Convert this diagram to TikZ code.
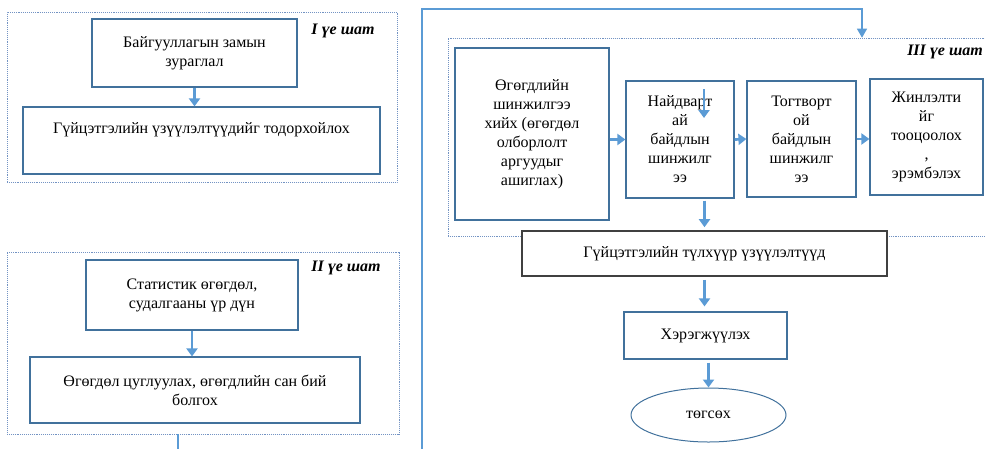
\documentclass[tikz,border=0pt]{standalone}
\usepackage{fontspec}
\setmainfont{Liberation Serif}
\usetikzlibrary{arrows.meta,shapes.geometric}
\definecolor{boxblue}{HTML}{41719C}
\definecolor{arrowblue}{HTML}{5B9BD5}
\definecolor{dotblue}{HTML}{7393C3}

\begin{document}
\begin{tikzpicture}[x=1pt,y=-1pt,
  every node/.style={font=\fontsize{16}{19}\selectfont, align=center, inner sep=0pt},
  box/.style={draw=boxblue, line width=1.2pt, fill=white},
  keybox/.style={draw=black!75, line width=1.6pt, fill=white},
  stageframe/.style={draw=dotblue, densely dotted, line width=0.9pt},
  stage/.style={font=\fontsize{16}{19}\selectfont\bfseries\itshape},
  arr/.style={draw=arrowblue, line width=2.7pt, -{Triangle[width=11pt,length=8pt]}},
  link/.style={draw=arrowblue, line width=1.3pt, -{Triangle[width=10pt,length=9pt]}}]

% the page
\useasboundingbox (0,0) rectangle (985,448);
\clip (0,0) rectangle (985,448);

% I stage
\node[stageframe, minimum width=390, minimum height=170] (frameI) at (202,97) {};
\node[stage] (lblI) at (343,31) {I үе шат};
\node[box, minimum width=205, minimum height=68] (zuraglal) at (194.5,53)
  {Байгууллагын замын\\зураглал};
\node[box, minimum width=357, minimum height=67] (uzuulelt) at (201.5,140.5)
  {Гүйцэтгэлийн үзүүлэлтүүдийг тодорхойлох\\ \strut};
\draw[arr] (zuraglal.south) -- (zuraglal.south |- uzuulelt.north);

% II stage
\node[stageframe, minimum width=392, minimum height=182] (frameII) at (203,343) {};
\node[stage] (lblII) at (346,268) {II үе шат};
\node[box, minimum width=212, minimum height=70] (statistik) at (192,295)
  {Статистик өгөгдөл,\\судалгааны үр дүн};
\node[box, minimum width=330, minimum height=66] (sanbii) at (195,390)
  {Өгөгдөл цуглуулах, өгөгдлийн сан бий\\болгох};
\draw[arr] (statistik.south) -- (statistik.south |- sanbii.north);

% III stage
\node[stageframe, minimum width=552, minimum height=198] (frameIII) at (724,137) {};
\node[stage, anchor=east] (lblIII) at (983,52) {III үе шат};
\node[box, minimum width=154, minimum height=172] (shinjilgee) at (532,134)
  {Өгөгдлийн\\шинжилгээ\\хийх (өгөгдөл\\олборлолт\\аргуудыг\\ашиглах)};
\node[box, minimum width=108, minimum height=117] (naidvar) at (680,139.5)
  {Найдварт\\ай\\байдлын\\шинжилг\\ээ};
\node[box, minimum width=109, minimum height=116] (togtvor) at (801.5,139)
  {Тогтворт\\ой\\байдлын\\шинжилг\\ээ};
\node[box, minimum width=113, minimum height=116] (jinlelt) at (926.5,137)
  {Жинлэлти\\йг\\тооцоолох\\,\\эрэмбэлэх};
\node[keybox, minimum width=365, minimum height=45] (tulhuur) at (704.5,253.5)
  {Гүйцэтгэлийн түлхүүр үзүүлэлтүүд};
\node[box, minimum width=163, minimum height=47] (hereg) at (705.5,335.5)
  {Хэрэгжүүлэх};
\node[ellipse, draw=boxblue, line width=1pt, minimum width=155, minimum height=54] (tugsukh) at (708.5,415)
  {төгсөх};

\draw[arr] (shinjilgee.east |- naidvar.west) -- (naidvar.west);
\draw[arr] (naidvar.east) -- (togtvor.west);
\draw[arr] (togtvor.east) -- (jinlelt.west |- togtvor.east);
\coordinate (strayA) at (704,89);
\coordinate (strayB) at (704,118);
\draw[arr] (strayA) -- (strayB);
\draw[arr, shorten <=2, shorten >=3] (tulhuur.north |- naidvar.south) -- (tulhuur.north);
\draw[arr, shorten <=3, shorten >=5] (tulhuur.south) -- (tulhuur.south |- hereg.north);
\draw[arr, shorten <=3] (hereg.south -| tugsukh.north) -- (tugsukh.north);

% link from II to III
\coordinate (outII) at (178,434);
\coordinate (inIII) at (862,37.7);
\draw[link] (outII) -- (178,470) -| (422,9) -| (inIII);

\end{tikzpicture}
\end{document}
